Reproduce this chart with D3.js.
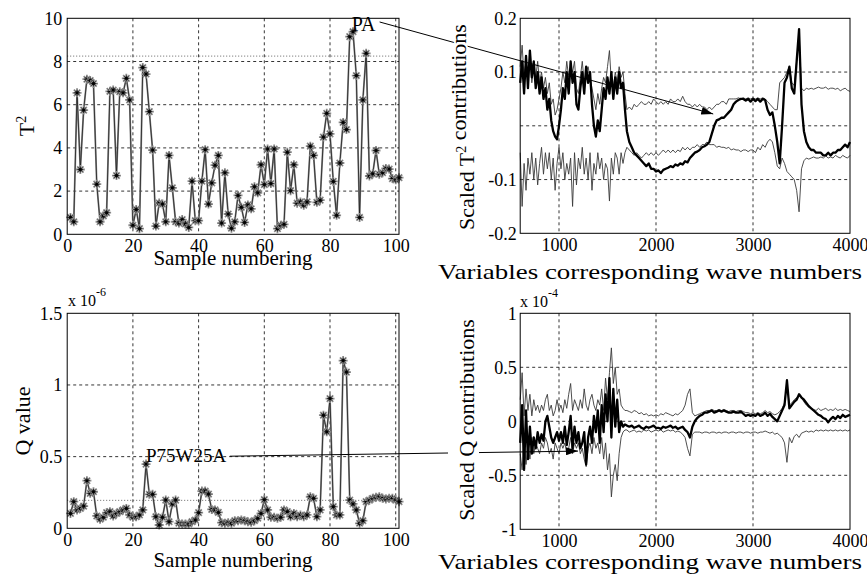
<!DOCTYPE html>
<html>
<head>
<meta charset="utf-8">
<script src="https://cdn.jsdelivr.net/npm/d3@7"></script>
<style>
body { margin: 0; background: #fff; }
svg text { font-family: "Liberation Serif", "Times New Roman", serif; fill: #000; }
</style>
</head>
<body>
<div id="chart"></div>
<script>
// ---- data ----
const samples = d3.range(1, 102);

const t2Values = [
  0.78, 0.58, 6.55, 3.0, 5.75, 7.18, 7.12, 6.98, 2.32, 0.58,
  0.85, 1.0, 6.62, 6.68, 2.72, 6.6, 6.55, 7.22, 6.22, 0.42,
  1.15, 0.26, 7.72, 7.42, 5.68, 3.9, 0.38, 1.45, 1.4, 0.58,
  3.65, 2.15, 0.58, 0.52, 0.68, 0.48, 0.32, 2.46, 0.63, 0.63,
  2.46, 3.92, 1.4, 2.38, 3.2, 3.65, 0.52, 2.85, 0.94, 0.28,
  0.58, 1.8, 1.25, 0.55, 1.36, 1.18, 2.2, 1.92, 3.22, 2.3,
  3.95, 2.35, 3.95, 0.26, 0.42, 0.46, 3.8, 2.02, 3.22, 1.44,
  1.5, 1.35, 1.5, 4.08, 3.65, 1.48, 1.58, 4.5, 5.6, 4.65,
  2.45, 0.88, 3.3, 5.18, 4.85, 9.15, 9.38, 7.35, 0.78, 6.22,
  8.38, 2.7, 2.8, 3.88, 2.78, 2.85, 3.05, 3.02, 2.58, 2.52,
  2.62
];
const t2Limit = 8.25;

// Q values, x 10^-6
const qValues = [
  0.104, 0.186, 0.128, 0.139, 0.155, 0.332, 0.244, 0.255, 0.086, 0.063,
  0.077, 0.109, 0.116, 0.086, 0.104, 0.116, 0.128, 0.139, 0.093, 0.077,
  0.081, 0.093, 0.128, 0.448, 0.237, 0.237, 0.081, 0.023, 0.077, 0.197,
  0.046, 0.17, 0.197, 0.035, 0.03, 0.03, 0.03, 0.046, 0.058, 0.109,
  0.26, 0.26, 0.239, 0.132, 0.128, 0.111, 0.039, 0.035, 0.039, 0.035,
  0.053, 0.053, 0.058, 0.053, 0.046, 0.042, 0.053, 0.07, 0.104, 0.2,
  0.128, 0.077, 0.077, 0.07, 0.077, 0.128, 0.116, 0.081, 0.104, 0.081,
  0.093, 0.081, 0.093, 0.22, 0.209, 0.081, 0.128, 0.789, 0.673, 0.905,
  0.151, 0.093, 0.093, 1.17, 1.09, 0.197, 0.17, 0.128, 0.035, 0.053,
  0.186, 0.197, 0.209, 0.216, 0.22, 0.209, 0.205, 0.209, 0.209, 0.197,
  0.186
];
const qLimit = 0.195;

// wave numbers: every 20 up to 1680, then every 25 up to 4000
const waveNumbers = d3.range(600, 1700, 20).concat(d3.range(1700, 4001, 25));

const t2Contrib = [
  0.08, 0.12, 0.06, 0.13, 0.07, 0.14, 0.09, 0.12, 0.07, 0.10,
  0.06, 0.09, 0.05, 0.07, 0.03, 0.05, 0.01, -0.01, -0.02, -0.025,
  0.00, 0.03, 0.07, 0.05, 0.10, 0.06, 0.12, 0.08, 0.10, 0.04,
  0.03, 0.07, 0.10, 0.06, 0.11, 0.08, 0.10, 0.04, 0.00, -0.02,
  0.01, -0.01, 0.03, 0.07, 0.05, 0.09, 0.06, 0.10, 0.05, 0.09,
  0.06, 0.10, 0.07, 0.08, 0.03,
  -0.01, -0.03, -0.04, -0.05, -0.055, -0.06, -0.065, -0.07, -0.075, -0.07,
  -0.08, -0.08, -0.085, -0.083, -0.088, -0.082, -0.08, -0.078, -0.075, -0.077,
  -0.072, -0.074, -0.07, -0.072, -0.066, -0.068, -0.06, -0.055, -0.05, -0.048,
  -0.045, -0.04, -0.038, -0.035, -0.03, -0.015, 0.0, 0.01, 0.012, 0.015,
  0.015, 0.02, 0.025, 0.03, 0.04, 0.045, 0.048, 0.05, 0.05, 0.047,
  0.05, 0.045, 0.05, 0.046, 0.05, 0.045, 0.05, 0.048, 0.03, 0.02,
  0.025, 0.0, -0.03, -0.07, 0.0, 0.08, 0.09, 0.11, 0.07, 0.06,
  0.12, 0.18, 0.04, -0.01, -0.03, -0.04, -0.045, -0.045, -0.05, -0.05,
  -0.05, -0.055, -0.055, -0.05, -0.055, -0.05, -0.05, -0.045, -0.045, -0.04,
  -0.035, -0.04, -0.03
];
const t2Upper = [
  0.11, 0.15, 0.09, 0.12, 0.10, 0.13, 0.08, 0.11, 0.09, 0.12,
  0.08, 0.10, 0.07, 0.09, 0.06, 0.08, 0.04, 0.05, 0.02, 0.03,
  0.05, 0.07, 0.10, 0.08, 0.12, 0.09, 0.11, 0.10, 0.12, 0.07,
  0.06, 0.09, 0.12, 0.08, 0.10, 0.11, 0.09, 0.07, 0.05, 0.03,
  0.06, 0.04, 0.07, 0.09, 0.08, 0.11, 0.14, 0.08, 0.07, 0.10,
  0.08, 0.11, 0.09, 0.10, 0.06,
  0.03, 0.035, 0.03, 0.04, 0.035, 0.04, 0.045, 0.04, 0.04, 0.045,
  0.04, 0.05, 0.045, 0.04, 0.045, 0.04, 0.045, 0.04, 0.05, 0.045,
  0.045, 0.05, 0.045, 0.055, 0.045, 0.04, 0.04, 0.035, 0.04, 0.035,
  0.04, 0.035, 0.035, 0.03, 0.035, 0.03, 0.035, 0.04, 0.04, 0.045,
  0.045, 0.04, 0.05, 0.05, 0.05, 0.05, 0.052, 0.05, 0.052, 0.05,
  0.052, 0.05, 0.052, 0.05, 0.052, 0.05, 0.052, 0.05, 0.045, 0.04,
  0.035, 0.03, 0.03, 0.08, 0.085, 0.09, 0.10, 0.11, 0.08, 0.075,
  0.12, 0.17, 0.07, 0.065, 0.07, 0.068, 0.07, 0.068, 0.07, 0.072,
  0.07, 0.07, 0.072, 0.068, 0.07, 0.07, 0.068, 0.07, 0.065, 0.068,
  0.07, 0.066, 0.064
];
const t2Lower = [
  -0.05, -0.15, -0.07, -0.12, -0.06, -0.09, -0.05, -0.10, -0.06, -0.11,
  -0.07, -0.04, -0.09, -0.05, -0.08, -0.05, -0.10, -0.06, -0.12, -0.07,
  -0.04, -0.08, -0.05, -0.10, -0.07, -0.09, -0.06, -0.15, -0.05, -0.11,
  -0.06, -0.08, -0.04, -0.09, -0.06, -0.10, -0.05, -0.12, -0.07, -0.09,
  -0.05, -0.08, -0.06, -0.10, -0.07, -0.08, -0.14, -0.06, -0.09, -0.05,
  -0.06, -0.09, -0.05, -0.07, -0.05,
  -0.04, -0.045, -0.05, -0.055, -0.05, -0.055, -0.06, -0.055, -0.05, -0.055,
  -0.05, -0.055, -0.05, -0.055, -0.05, -0.045, -0.05, -0.045, -0.05, -0.045,
  -0.05, -0.045, -0.048, -0.04, -0.045, -0.04, -0.045, -0.04, -0.04, -0.035,
  -0.04, -0.035, -0.035, -0.03, -0.035, -0.035, -0.035, -0.04, -0.038, -0.04,
  -0.04, -0.042, -0.04, -0.045, -0.043, -0.045, -0.045, -0.048, -0.045, -0.045,
  -0.048, -0.045, -0.045, -0.05, -0.04, -0.045, -0.035, -0.04, -0.03, -0.025,
  -0.03, -0.05, -0.075, -0.08, -0.06, -0.07, -0.085, -0.09, -0.095, -0.10,
  -0.12, -0.16, -0.08, -0.065, -0.06, -0.062, -0.06, -0.058, -0.06, -0.06,
  -0.058, -0.06, -0.056, -0.06, -0.058, -0.06, -0.055, -0.058, -0.06, -0.055,
  -0.058, -0.06, -0.055
];

// Q contributions, x 10^-4
const qContrib = [
  -0.20, 0.15, -0.45, 0.10, -0.35, -0.05, -0.30, -0.15, -0.25, -0.10,
  -0.20, -0.12, -0.18, 0.00, 0.05, -0.05, -0.15, -0.20, -0.15, -0.10,
  -0.18, -0.10, -0.20, -0.05, -0.22, -0.10, 0.05, -0.25, -0.05, -0.20,
  -0.10, -0.25, -0.20, -0.10, -0.40, -0.15, -0.05, -0.20, 0.05, -0.10,
  0.10, -0.20, 0.15, -0.10, 0.25, 0.00, 0.40, -0.15, 0.30, -0.05,
  0.20, -0.10, 0.00, -0.05, -0.03,
  -0.04, -0.05, -0.04, -0.06, -0.05, -0.04, -0.06, -0.07, -0.05, -0.06,
  -0.05, -0.04, -0.06, -0.06, -0.07, -0.05, -0.06, -0.05, -0.04, -0.06,
  -0.05, -0.07, -0.06, -0.05, -0.08, -0.10, -0.15, -0.05, 0.00, 0.03,
  0.05, 0.06, 0.08, 0.08, 0.09, 0.10, 0.08, 0.09, 0.10, 0.09,
  0.10, 0.09, 0.08, 0.08, 0.09, 0.08, 0.08, 0.09, 0.07, 0.05,
  0.06, 0.05, 0.06, 0.05, 0.07, 0.05, 0.06, 0.08, 0.05, 0.07,
  0.04, 0.02, 0.00, 0.05, 0.10, 0.15, 0.38, 0.12, 0.15, 0.18,
  0.20, 0.25, 0.22, 0.20, 0.17, 0.14, 0.12, 0.10, 0.08, 0.06,
  0.05, 0.03, 0.02, -0.01, 0.02, 0.04, 0.02, 0.05, 0.03, 0.06,
  0.04, 0.05, 0.06
];
const qUpper = [
  0.20, 0.45, 0.05, 0.30, 0.10, 0.25, 0.05, 0.20, 0.10, 0.15,
  0.08, 0.15, 0.10, 0.20, 0.25, 0.10, 0.15, 0.05, 0.10, 0.20,
  0.10, 0.15, 0.08, 0.20, 0.12, 0.25, 0.35, 0.10, 0.20, 0.15,
  0.10, 0.20, 0.12, 0.30, 0.15, 0.10, 0.20, 0.25, 0.15, 0.10,
  0.20, 0.15, 0.30, 0.10, 0.40, 0.20, 0.45, 0.68, 0.35, 0.50,
  0.25, 0.30, 0.15, 0.12, 0.10,
  0.10, 0.09, 0.08, 0.10, 0.09, 0.07, 0.08, 0.06, 0.07, 0.05,
  0.06, 0.05, 0.06, 0.05, 0.07, 0.06, 0.08, 0.07, 0.06, 0.05,
  0.07, 0.06, 0.08, 0.10, 0.15, 0.25, 0.30, 0.08, 0.05, 0.06,
  0.07, 0.08, 0.09, 0.10, 0.10, 0.11, 0.10, 0.10, 0.11, 0.10,
  0.11, 0.10, 0.09, 0.10, 0.10, 0.09, 0.10, 0.10, 0.09, 0.08,
  0.08, 0.07, 0.08, 0.07, 0.08, 0.07, 0.08, 0.10, 0.08, 0.09,
  0.07, 0.06, 0.07, 0.09, 0.12, 0.17, 0.35, 0.15, 0.17, 0.20,
  0.22, 0.24, 0.22, 0.18, 0.15, 0.13, 0.12, 0.11, 0.10, 0.12,
  0.10, 0.11, 0.12, 0.10, 0.11, 0.10, 0.12, 0.10, 0.11, 0.10,
  0.11, 0.10, 0.09
];
const qLower = [
  -0.30, -0.45, -0.15, -0.40, -0.20, -0.35, -0.15, -0.30, -0.20, -0.25,
  -0.30, -0.20, -0.25, -0.15, -0.20, -0.30, -0.25, -0.35, -0.20, -0.25,
  -0.30, -0.20, -0.25, -0.20, -0.30, -0.25, -0.15, -0.30, -0.20, -0.25,
  -0.20, -0.30, -0.25, -0.35, -0.42, -0.25, -0.20, -0.30, -0.15, -0.25,
  -0.20, -0.30, -0.15, -0.35, -0.20, -0.45, -0.30, -0.70, -0.50, -0.40,
  -0.55, -0.30, -0.15, -0.10, -0.08,
  -0.08, -0.10, -0.09, -0.08, -0.10, -0.09, -0.10, -0.08, -0.09, -0.08,
  -0.10, -0.09, -0.08, -0.09, -0.08, -0.10, -0.09, -0.08, -0.09, -0.08,
  -0.10, -0.09, -0.10, -0.12, -0.15, -0.25, -0.32, -0.12, -0.10, -0.10,
  -0.10, -0.11, -0.10, -0.10, -0.11, -0.10, -0.10, -0.11, -0.10, -0.11,
  -0.10, -0.10, -0.11, -0.10, -0.10, -0.11, -0.10, -0.10, -0.11, -0.10,
  -0.10, -0.11, -0.10, -0.10, -0.11, -0.10, -0.10, -0.09, -0.10, -0.11,
  -0.10, -0.12, -0.11, -0.13, -0.15, -0.20, -0.38, -0.15, -0.20, -0.14,
  -0.12, -0.15, -0.11, -0.10, -0.09, -0.10, -0.09, -0.10, -0.08, -0.09,
  -0.08, -0.09, -0.08, -0.09, -0.08, -0.09, -0.08, -0.09, -0.08, -0.09,
  -0.08, -0.09, -0.08
];

// tick labels
const sampleTicks = [0, 20, 40, 60, 80, 100];
const waveTicks = [1000, 2000, 3000, 4000];
const t2Ticks = [0, 2, 4, 6, 8, 10];
const t2ContribTicks = [0.2, 0.1, -0.1, -0.2];
const qTicks = [0, 0.5, 1, 1.5];
const qContribTicks = [-1, -0.5, 0, 0.5, 1];

// ---- drawing ----
const width = 867, height = 575;
const serif = '"Liberation Serif", "Times New Roman", serif';

const svg = d3.select("#chart").append("svg")
  .attr("width", width)
  .attr("height", height);

svg.append("defs").append("marker")
  .attr("id", "arrow")
  .attr("viewBox", "0 0 12 8")
  .attr("refX", 12).attr("refY", 4)
  .attr("markerWidth", 12).attr("markerHeight", 8)
  .attr("markerUnits", "userSpaceOnUse")
  .attr("orient", "auto")
  .append("path").attr("d", "M0,0L12,4L0,8Z").attr("fill", "#000");

function makePanel(box, xDomain, yDomain) {
  let x = d3.scaleLinear().domain(xDomain).range([box.left, box.right]);
  let y = d3.scaleLinear().domain(yDomain).range([box.bottom, box.top]);
  let g = svg.append("g");
  return { x, y, g, box };
}

function grid(p, xs, ys) {
  p.g.selectAll("line.gx").data(xs).join("line").attr("class", "gx")
    .attr("x1", d => p.x(d)).attr("x2", d => p.x(d))
    .attr("y1", p.box.top).attr("y2", p.box.bottom);
  p.g.selectAll("line.gy").data(ys).join("line").attr("class", "gy")
    .attr("y1", d => p.y(d)).attr("y2", d => p.y(d))
    .attr("x1", p.box.left).attr("x2", p.box.right);
  p.g.selectAll("line.gx, line.gy")
    .attr("stroke", "#000").attr("stroke-width", 0.8).attr("stroke-dasharray", "3,3");
}

function axes(p, xTicks, yTicks, yPad) {
  p.g.append("g")
    .attr("transform", `translate(0,${p.box.bottom})`)
    .call(d3.axisBottom(p.x).tickValues(xTicks).tickSize(0).tickFormat(d => String(d)))
    .attr("font-family", serif).attr("font-size", 18)
    .call(a => a.select(".domain").remove())
    .call(a => a.selectAll("text").attr("y", 18).attr("dy", null));
  p.g.append("g")
    .attr("transform", `translate(${p.box.left},0)`)
    .call(d3.axisLeft(p.y).tickValues(yTicks).tickSize(0).tickPadding(yPad).tickFormat(d => String(d)))
    .attr("font-family", serif).attr("font-size", 18)
    .call(a => a.select(".domain").remove());
}

function frame(p) {
  p.g.append("rect")
    .attr("x", p.box.left).attr("y", p.box.top)
    .attr("width", p.box.right - p.box.left).attr("height", p.box.bottom - p.box.top)
    .attr("fill", "none").attr("stroke", "#000").attr("stroke-width", 1);
}

function limitLine(p, v) {
  p.g.append("line")
    .attr("x1", p.box.left).attr("x2", p.box.right)
    .attr("y1", p.y(v)).attr("y2", p.y(v))
    .attr("stroke", "#555").attr("stroke-width", 0.9).attr("stroke-dasharray", "1,2");
}

const starPath = "M-4.5,0H4.5M0,-4.5V4.5M-3.2,-3.2L3.2,3.2M-3.2,3.2L3.2,-3.2";

function starSeries(p, values) {
  let pts = samples.map((s, i) => [s, values[i]]);
  let line = d3.line().x(d => p.x(d[0])).y(d => p.y(d[1]));
  p.g.append("path").attr("d", line(pts))
    .attr("fill", "none").attr("stroke", "#8a8a8a").attr("stroke-width", 1.8);
  p.g.append("path").attr("d", line(pts))
    .attr("fill", "none").attr("stroke", "#111").attr("stroke-width", 0.7);
  let m = p.g.selectAll("g.star").data(pts).join("g").attr("class", "star")
    .attr("transform", d => `translate(${p.x(d[0])},${p.y(d[1])})`);
  m.append("path").attr("d", starPath)
    .attr("stroke", "#888").attr("stroke-width", 1.8).attr("fill", "none");
  m.append("path").attr("d", starPath).attr("transform", "scale(0.65)")
    .attr("stroke", "#000").attr("stroke-width", 1.1).attr("fill", "none");
  m.append("circle").attr("r", 1.5).attr("fill", "#000");
}

function spectrum(p, values, w, color) {
  let line = d3.line().x((d, i) => p.x(waveNumbers[i])).y(d => p.y(d));
  p.g.append("path").attr("d", line(values))
    .attr("fill", "none").attr("stroke", color).attr("stroke-width", w)
    .attr("stroke-linejoin", "round");
}

function yTitle(x, y, parts, halo) {
  let t = svg.append("text")
    .attr("transform", `translate(${x},${y}) rotate(-90)`)
    .attr("text-anchor", "middle").attr("font-size", 22);
  if (halo) t.attr("stroke", "#fff").attr("stroke-width", 4).attr("paint-order", "stroke");
  parts.forEach(([txt, sup]) => {
    t.append("tspan").text(txt)
      .attr("font-size", sup ? 14 : 22)
      .attr("dy", sup ? "-0.6em" : null);
    if (sup) t.append("tspan").attr("dy", "0.38em").text("");
  });
  return t;
}

function exponent(x, y, sup) {
  let t = svg.append("text").attr("x", x).attr("y", y).attr("font-size", 16);
  t.append("tspan").text("x 10");
  t.append("tspan").attr("font-size", 12).attr("dy", -10).text(sup);
}

// panels
const pT2 = makePanel({ left: 67.2, right: 399, top: 18.3, bottom: 234.3 }, [0, 101], [0, 10]);
const pT2c = makePanel({ left: 520.2, right: 850, top: 18.3, bottom: 233.3 }, [600, 4000], [-0.2, 0.2]);
const pQ = makePanel({ left: 67.2, right: 399, top: 313.3, bottom: 528.3 }, [0, 101], [0, 1.5]);
const pQc = makePanel({ left: 520.2, right: 850, top: 313.3, bottom: 529.3 }, [600, 4000], [-1, 1]);

grid(pT2, [20, 40, 60, 80, 100], [2, 4, 6, 8]);
limitLine(pT2, t2Limit);
starSeries(pT2, t2Values);
axes(pT2, sampleTicks, t2Ticks, 5);
frame(pT2);

grid(pQ, [20, 40, 60, 80, 100], [0.5, 1]);
limitLine(pQ, qLimit);
starSeries(pQ, qValues);
axes(pQ, sampleTicks, qTicks, 5);
frame(pQ);

grid(pT2c, [1000, 2000, 3000], [0.1, 0, -0.1]);
spectrum(pT2c, t2Upper, 0.9, "#3a3a3a");
spectrum(pT2c, t2Lower, 0.9, "#3a3a3a");
spectrum(pT2c, t2Contrib, 2.3, "#000");
axes(pT2c, waveTicks, t2ContribTicks, 3.5);
frame(pT2c);

grid(pQc, [1000, 2000, 3000], [0.5, 0, -0.5]);
spectrum(pQc, qUpper, 0.9, "#3a3a3a");
spectrum(pQc, qLower, 0.9, "#3a3a3a");
spectrum(pQc, qContrib, 2.3, "#000");
axes(pQc, waveTicks, qContribTicks, 3.5);
frame(pQc);

// annotations: label position, line start (left panel units), line end (right panel units)
const annoPA = { text: "PA", at: [86.6, 9.41], from: [95.1, 9.83], to: [2590, 0.022] };
const annoP75 = { text: "P75W25A", at: [23.95, 0.461], from: [49.5, 0.503], to: [1196, -0.276] };

function annotate(a, pl, pr, size) {
  svg.append("line")
    .attr("x1", pl.x(a.from[0])).attr("y1", pl.y(a.from[1]))
    .attr("x2", pr.x(a.to[0])).attr("y2", pr.y(a.to[1]))
    .attr("stroke", "#000").attr("stroke-width", 1)
    .attr("marker-end", "url(#arrow)");
  svg.append("text")
    .attr("x", pl.x(a.at[0])).attr("y", pl.y(a.at[1]))
    .attr("font-size", size).text(a.text);
}
annotate(annoPA, pT2, pT2c, 20);
annotate(annoP75, pQ, pQc, 19);

// titles
svg.append("text").attr("x", 233).attr("y", 265).attr("text-anchor", "middle")
  .attr("font-size", 21).text("Sample numbering");
svg.append("text").attr("x", 233).attr("y", 567).attr("text-anchor", "middle")
  .attr("font-size", 21).text("Sample numbering");
svg.append("text").attr("x", 438).attr("y", 279)
  .attr("font-size", 22).attr("textLength", 424).attr("lengthAdjust", "spacingAndGlyphs")
  .text("Variables corresponding wave numbers");
svg.append("text").attr("x", 438).attr("y", 569)
  .attr("font-size", 22).attr("textLength", 424).attr("lengthAdjust", "spacingAndGlyphs")
  .text("Variables corresponding wave numbers");

yTitle(34, 126, [["T", false], ["2", true]]);
yTitle(30, 421, [["Q value", false]]);
yTitle(474, 127, [["Scaled T", false], ["2", true], [" contributions", false]], true);
svg.append("rect").attr("x", 448).attr("y", 323).attr("width", 31).attr("height", 194).attr("fill", "#fff");
yTitle(474, 420, [["Scaled Q contributions", false]]);

exponent(68, 306, "-6");
exponent(520, 307, "-4");
</script>
</body>
</html>
